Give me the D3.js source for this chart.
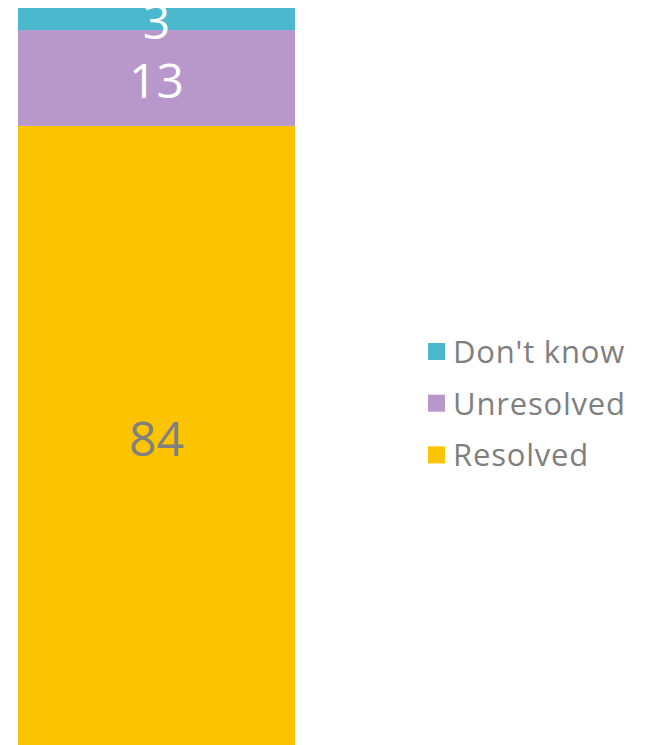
<!DOCTYPE html>
<html>
<head>
<meta charset="utf-8">
<script src="https://cdn.jsdelivr.net/npm/d3@7"></script>
<style>
  html, body { margin: 0; padding: 0; background: #fff; }
  svg { display: block; }
  text { font-family: "Open Sans", "Noto Sans", sans-serif; }
</style>
</head>
<body>
<svg id="chart" width="649" height="745"></svg>
<script>
// Single stacked column, segments bottom to top
const categories = ["Total"];
const seriesNames = ["Resolved", "Unresolved", "Don't know"];
const seriesValues = [84, 13, 3];
const seriesColors = ["#FBC300", "#B897CB", "#4BB8CE"];
const labelColors = ["#808080", "#ffffff", "#ffffff"];
// Legend lists the top segment first
const legendOrder = ["Don't know", "Unresolved", "Resolved"];

const width = 649, height = 745;
const svg = d3.select("#chart");

const x = d3.scaleBand().domain(categories).range([18, 295]).padding(0);
const y = d3.scaleLinear().domain([0, 100]).range([745, 8]);

const row = { category: categories[0] };
seriesNames.forEach((s, i) => row[s] = seriesValues[i]);
const stacked = d3.stack().keys(seriesNames)([row]);

const seg = svg.append("g").selectAll("g")
  .data(stacked)
  .join("g");

seg.append("rect")
  .attr("x", x(categories[0]))
  .attr("width", x.bandwidth())
  .attr("y", d => y(d[0][1]))
  .attr("height", d => y(d[0][0]) - y(d[0][1]))
  .attr("fill", (d, i) => seriesColors[i]);

seg.append("text")
  .attr("x", x(categories[0]) + x.bandwidth() / 2)
  .attr("y", d => (y(d[0][0]) + y(d[0][1])) / 2)
  .attr("dy", "0.42em")
  .attr("text-anchor", "middle")
  .attr("font-size", 48)
  .attr("fill", (d, i) => labelColors[i])
  .text((d, i) => seriesValues[i]);

// Legend
const legend = svg.append("g").attr("transform", "translate(428,343)");
const items = legend.selectAll("g")
  .data(legendOrder)
  .join("g")
  .attr("transform", (d, i) => `translate(0,${i * 51.7})`);

items.append("rect")
  .attr("width", 17)
  .attr("height", 17)
  .attr("fill", d => seriesColors[seriesNames.indexOf(d)]);

items.append("text")
  .attr("x", 25)
  .attr("y", 20)
  .attr("font-size", 31)
  .attr("letter-spacing", 0.8)
  .attr("fill", "#7f7f7f")
  .text(d => d);
</script>
</body>
</html>
